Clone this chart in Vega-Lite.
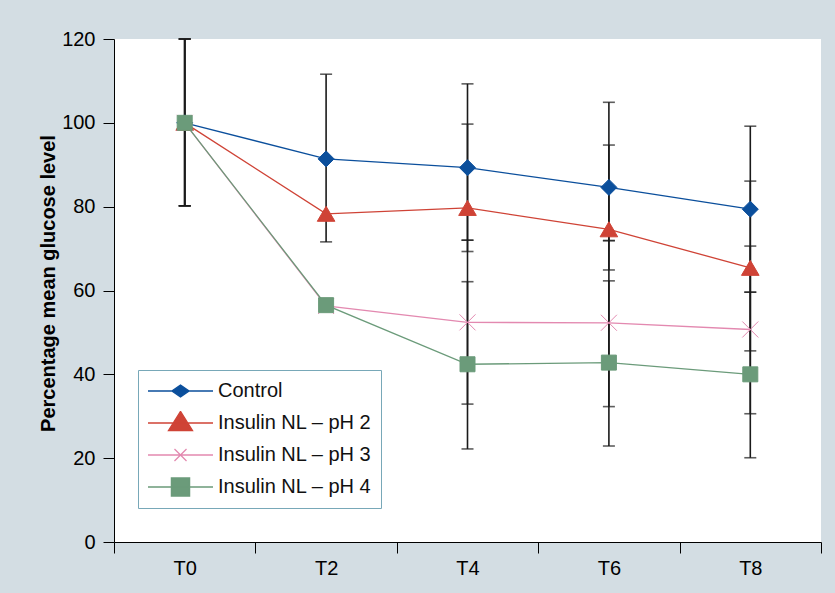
{
  "$schema": "https://vega.github.io/schema/vega-lite/v6.json",
  "width": 707,
  "height": 503,
  "autosize": {"type": "none"},
  "padding": {"left": 114, "top": 39, "right": 14, "bottom": 51},
  "background": "#d3dde3",
  "config": {
    "view": {"fill": "white", "stroke": null},
    "font": "Liberation Sans",
    "axis": {
      "domainColor": "#000000",
      "tickColor": "#000000",
      "domainWidth": 1,
      "tickWidth": 1,
      "labelColor": "#000000",
      "titleColor": "#000000",
      "labelFont": "Liberation Sans",
      "titleFont": "Liberation Sans",
      "labelFontSize": 20,
      "grid": false
    }
  },
  "data": {
    "values": [
      {"t": 0, "time": "T0", "series": "Control", "value": 100, "low": 80.2, "high": 120},
      {"t": 0, "time": "T0", "series": "Insulin NL – pH 2", "value": 100, "low": 80.2, "high": 120},
      {"t": 0, "time": "T0", "series": "Insulin NL – pH 3", "value": 100, "low": 80.2, "high": 120},
      {"t": 0, "time": "T0", "series": "Insulin NL – pH 4", "value": 100, "low": 80.2, "high": 120},
      {"t": 2, "time": "T2", "series": "Control", "value": 91.4, "low": 71.6, "high": 111.6},
      {"t": 2, "time": "T2", "series": "Insulin NL – pH 2", "value": 78.3, "low": null, "high": null},
      {"t": 2, "time": "T2", "series": "Insulin NL – pH 3", "value": 56.3, "low": null, "high": null},
      {"t": 2, "time": "T2", "series": "Insulin NL – pH 4", "value": 56.5, "low": null, "high": null},
      {"t": 4, "time": "T4", "series": "Control", "value": 89.3, "low": 69.3, "high": 109.3},
      {"t": 4, "time": "T4", "series": "Insulin NL – pH 2", "value": 79.7, "low": 72.0, "high": 99.7},
      {"t": 4, "time": "T4", "series": "Insulin NL – pH 3", "value": 52.4, "low": 32.9, "high": 72.0},
      {"t": 4, "time": "T4", "series": "Insulin NL – pH 4", "value": 42.4, "low": 22.2, "high": 62.1},
      {"t": 6, "time": "T6", "series": "Control", "value": 84.6, "low": 64.9, "high": 104.9},
      {"t": 6, "time": "T6", "series": "Insulin NL – pH 2", "value": 74.6, "low": 71.9, "high": 94.7},
      {"t": 6, "time": "T6", "series": "Insulin NL – pH 3", "value": 52.3, "low": 32.3, "high": 71.9},
      {"t": 6, "time": "T6", "series": "Insulin NL – pH 4", "value": 42.8, "low": 22.9, "high": 62.3},
      {"t": 8, "time": "T8", "series": "Control", "value": 79.4, "low": 59.6, "high": 99.2},
      {"t": 8, "time": "T8", "series": "Insulin NL – pH 2", "value": 65.4, "low": 45.6, "high": 86.1},
      {"t": 8, "time": "T8", "series": "Insulin NL – pH 3", "value": 50.7, "low": 30.6, "high": 70.6},
      {"t": 8, "time": "T8", "series": "Insulin NL – pH 4", "value": 40.0, "low": 20.1, "high": 59.6}
    ]
  },
  "encoding": {
    "x": {
      "field": "t",
      "type": "quantitative",
      "scale": {"domain": [-1, 9], "nice": false, "zero": false},
      "axis": {
        "title": null,
        "values": [-1, 1, 3, 5, 7, 9],
        "labelExpr": "datum.value < 9 ? 'T' + (datum.value + 1) : ''",
        "labelOffset": 70.7,
        "labelFlush": false,
        "labelOverlap": false,
        "labelBound": false,
        "tickSize": 11,
        "labelPadding": 5
      }
    }
  },
  "layer": [
    {
      "mark": {"type": "rule", "color": "#1a1a1a", "strokeWidth": 1.6},
      "encoding": {
        "y": {
          "field": "low",
          "type": "quantitative",
          "scale": {"domain": [0, 120], "nice": false},
          "axis": {
            "title": "Percentage mean glucose level",
            "titleFontSize": 20,
            "titleFontWeight": "bold",
            "titlePadding": 3,
            "titleY": 244,
            "values": [0, 20, 40, 60, 80, 100, 120],
            "tickSize": 11,
            "labelPadding": 8
          }
        },
        "y2": {"field": "high"}
      }
    },
    {
      "mark": {"type": "tick", "orient": "horizontal", "color": "#1a1a1a", "size": 12, "thickness": 1.6},
      "encoding": {"y": {"field": "low", "type": "quantitative"}}
    },
    {
      "mark": {"type": "tick", "orient": "horizontal", "color": "#1a1a1a", "size": 12, "thickness": 1.6},
      "encoding": {"y": {"field": "high", "type": "quantitative"}}
    },
    {
      "mark": {"type": "line", "strokeWidth": 1.3},
      "encoding": {
        "y": {"field": "value", "type": "quantitative"},
        "color": {
          "field": "series",
          "type": "nominal",
          "scale": {
            "domain": ["Control", "Insulin NL – pH 2", "Insulin NL – pH 3", "Insulin NL – pH 4"],
            "range": ["#0b4f9c", "#cf4336", "#e389b0", "#6b9b7a"]
          }
        }
      }
    },
    {
      "mark": {"type": "point", "filled": true, "opacity": 1, "size": 400, "strokeWidth": 1, "stroke": {"expr": "scale('color', datum.series)"}},
      "encoding": {
        "y": {"field": "value", "type": "quantitative"},
        "color": {
          "field": "series",
          "type": "nominal",
          "legend": {
            "title": null,
            "orient": "none",
            "legendX": 24,
            "legendY": 331,
            "padding": 9,
            "rowPadding": 8,
            "clipHeight": 24,
            "strokeColor": "#78a8b8",
            "fillColor": "#ffffff",
            "labelFont": "Liberation Sans",
            "labelFontSize": 20,
            "labelColor": "#111111",
            "labelOffset": 4,
            "labelLimit": 400,
            "symbolSize": 4225,
            "symbolStrokeWidth": 1.3,
            "symbolOpacity": 1,
            "symbolType": {"expr": "datum.value === 'Control' ? 'M-1,0H1M0,-0.18L0.265,0L0,0.18L-0.265,0Z' : datum.value === 'Insulin NL – pH 2' ? 'M-1,0H1M0,-0.357L0.37,0.237L-0.37,0.237Z' : datum.value === 'Insulin NL – pH 3' ? 'M-1,0H1M-0.185,-0.185L0.185,0.185M-0.185,0.185L0.185,-0.185' : 'M-1,0H1M-0.28,-0.28H0.28V0.28H-0.28Z'"},
            "encoding": {
              "symbols": {
                "shape": {"value": {"expr": "datum.value === 'Control' ? 'M-1,0H1M0,-0.18L0.265,0L0,0.18L-0.265,0Z' : datum.value === 'Insulin NL – pH 2' ? 'M-1,0H1M0,-0.357L0.37,0.237L-0.37,0.237Z' : datum.value === 'Insulin NL – pH 3' ? 'M-1,0H1M-0.185,-0.185L0.185,0.185M-0.185,0.185L0.185,-0.185' : 'M-1,0H1M-0.28,-0.28H0.28V0.28H-0.28Z'"}},
                "fill": {"value": {"expr": "scale('color', datum.value)"}},
                "stroke": {"value": {"expr": "scale('color', datum.value)"}},
                "strokeWidth": {"value": 1.3},
                "size": {"value": 4225}
              }
            }
          }
        },
        "shape": {
          "field": "series",
          "type": "nominal",
          "scale": {
            "range": ["M0,-0.8L0.8,0L0,0.8L-0.8,0Z", "M0,-0.75L0.88,0.75L-0.88,0.75Z", "M-0.8,-0.8L0.8,0.8M-0.8,0.8L0.8,-0.8", "M-0.75,-0.75H0.75V0.75H-0.75Z"]
          },
          "legend": null
        }
      }
    }
  ]
}
